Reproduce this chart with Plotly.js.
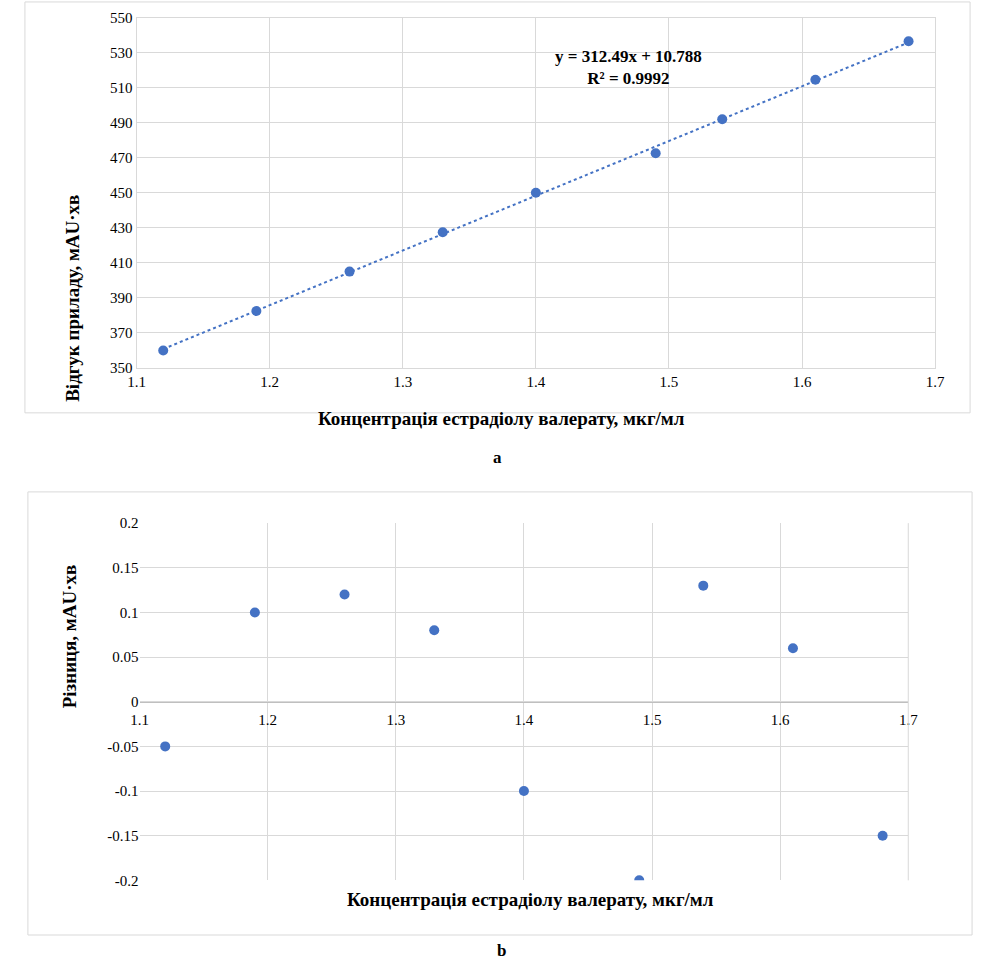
<!DOCTYPE html>
<html><head><meta charset="utf-8">
<script src="https://cdn.plot.ly/plotly-3.0.1.min.js"></script>
<style>body{margin:0;background:#fff}</style>
</head><body>
<div id="chart" style="width:997px;height:976px"></div>
<script>
// calibration data (a)
const conc = [1.12, 1.19, 1.26, 1.33, 1.40, 1.49, 1.54, 1.61, 1.68];
const response = [360, 382.5, 405, 427.5, 450, 472.5, 492, 514.5, 536.5];
const trendX = [1.12, 1.68];
const trendY = [360.8, 535.8];
// residuals (b)
const residuals = [-0.05, 0.1, 0.12, 0.08, -0.1, -0.2, 0.13, 0.06, -0.15];
const resTicks = [-0.2, -0.15, -0.1, -0.05, 0, 0.05, 0.1, 0.15, 0.2];
const resTickText = ['-0.2', '-0.15', '-0.1', '-0.05', '0', '0.05', '0.1', '0.15', '0.2'];

const blue = '#4472C4';
const grid = '#d9d9d9';
const serif = 'Liberation Serif, Times New Roman, serif';

let traces = [
  {x: conc, y: response, mode: 'markers', type: 'scatter',
   marker: {color: blue, size: 10}, xaxis: 'x', yaxis: 'y'},
  {x: trendX, y: trendY, mode: 'lines', type: 'scatter',
   line: {color: blue, width: 2, dash: 'dot'}, xaxis: 'x', yaxis: 'y'},
  {x: conc, y: residuals, mode: 'markers', type: 'scatter',
   marker: {color: blue, size: 10}, xaxis: 'x2', yaxis: 'y2'}
];

let tickFont = {family: serif, size: 15, color: '#000'};
let titleFont = {family: serif, size: 19, color: '#000'};

let layout = {
  width: 997, height: 976, showlegend: false,
  margin: {l: 0, r: 0, t: 0, b: 0},
  paper_bgcolor: '#fff', plot_bgcolor: '#fff',
  xaxis: {domain: [0.137, 0.938], range: [1.1, 1.7], dtick: 0.1, tickformat: '.1f',
          gridcolor: grid, showline: true, linecolor: grid, mirror: true,
          zeroline: false, tickfont: tickFont, anchor: 'y', ticks: ''},
  yaxis: {domain: [0.623, 0.982], range: [350, 550], tick0: 350, dtick: 20,
          gridcolor: grid, showline: true, linecolor: grid, mirror: true,
          zeroline: false, tickfont: tickFont, anchor: 'x'},
  xaxis2: {domain: [0.140, 0.911], range: [1.1, 1.7], dtick: 0.1, tickformat: '.1f',
           gridcolor: grid, showline: true, linecolor: '#bfbfbf',
           zeroline: false, tickfont: tickFont, anchor: 'free', position: 0.281,
           ticks: '', ticklabelstandoff: 4},
  yaxis2: {domain: [0.098, 0.464], range: [-0.2, 0.2], tickvals: resTicks, ticktext: resTickText,
           gridcolor: grid, zeroline: false, showline: false,
           tickfont: tickFont, anchor: 'x2'},
  shapes: [
    {type: 'rect', xref: 'paper', yref: 'paper', x0: 0.025, x1: 0.973, y0: 0.577, y1: 0.998,
     line: {color: '#d9d9d9', width: 1}},
    {type: 'rect', xref: 'paper', yref: 'paper', x0: 0.028, x1: 0.975, y0: 0.042, y1: 0.496,
     line: {color: '#d9d9d9', width: 1}},
    {type: 'line', xref: 'x2 domain', yref: 'paper', x0: 1, x1: 1, y0: 0.098, y1: 0.464,
     line: {color: grid, width: 1}}
  ],
  annotations: [
    {text: '<b>y = 312.49x + 10.788<br>R² = 0.9992</b>', xref: 'paper', yref: 'paper',
     x: 0.706, y: 0.954, showarrow: false, font: {family: serif, size: 17, color: '#000'}},
    {text: '<b>Концентрація естрадіолу валерату, мкг/мл</b>', xref: 'paper', yref: 'paper',
     x: 0.503, y: 1 - 418/976, showarrow: false, font: titleFont},
    {text: '<b>Відгук приладу, мAU·хв</b>', xref: 'paper', yref: 'paper', textangle: -90,
     x: 0.060, y: 1 - 193/976, showarrow: false, font: titleFont},
    {text: '<b>Концентрація естрадіолу валерату, мкг/мл</b>', xref: 'paper', yref: 'paper',
     x: 0.532, y: 1 - 912/976, showarrow: false, font: titleFont},
    {text: '<b>Різниця, мAU·хв</b>', xref: 'paper', yref: 'paper', textangle: -90,
     x: 0.057, y: 1 - 710/976, showarrow: false, font: titleFont},
    {text: '<b>a</b>', xref: 'paper', yref: 'paper', x: 0.499, y: 1 - 458/976,
     showarrow: false, font: {family: serif, size: 17, color: '#000'}},
    {text: '<b>b</b>', xref: 'paper', yref: 'paper', x: 0.503, y: 1 - 962/976,
     showarrow: false, font: {family: serif, size: 17, color: '#000'}}
  ]
};

Plotly.newPlot('chart', traces, layout, {staticPlot: true});
</script>
</body></html>
